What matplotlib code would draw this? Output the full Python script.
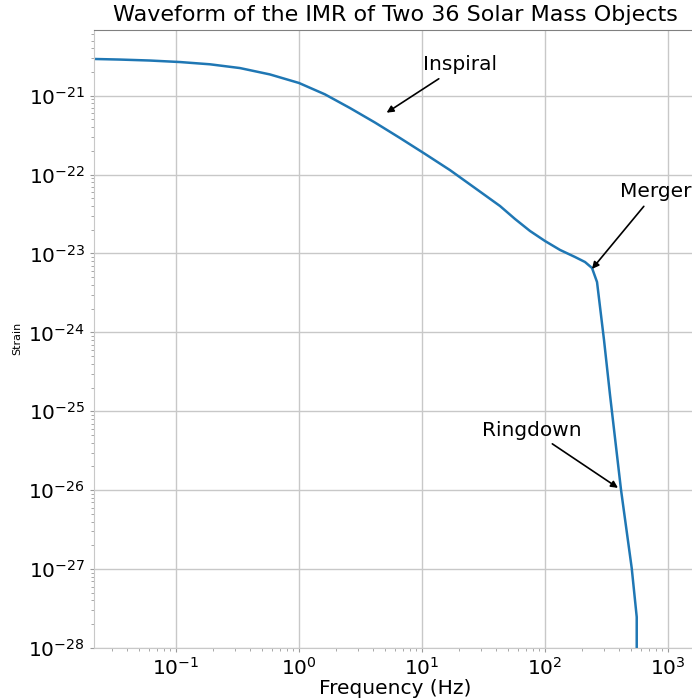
import matplotlib
matplotlib.use("Agg")
import matplotlib.pyplot as plt

# Frequency-domain amplitude of the inspiral-merger-ringdown signal
freq_hz = [0.02154, 0.03505, 0.06145, 0.1078, 0.1890, 0.3314, 0.5809, 1.000,
           1.627, 2.598, 4.149, 6.625, 10.58, 16.89, 26.97, 43.07, 57.03,
           75.51, 100.0, 132.4, 175.3, 211.5, 241.1, 264.8, 301.8, 337.7,
           414.9, 506.9, 556.7, 556.7]
strain = [2.92e-21, 2.87e-21, 2.79e-21, 2.67e-21, 2.50e-21, 2.24e-21, 1.86e-21,
          1.45e-21, 1.04e-21, 6.98e-22, 4.57e-22, 2.91e-22, 1.83e-22, 1.14e-22,
          6.76e-23, 4.00e-23, 2.74e-23, 1.93e-23, 1.44e-23, 1.11e-23, 9.03e-24,
          7.80e-24, 6.55e-24, 4.35e-24, 8.01e-25, 1.61e-25, 1.01e-26, 1.03e-27,
          2.47e-28, 1e-32]

x_ticks = [1e-1, 1e0, 1e1, 1e2, 1e3]
y_ticks = [1e-28, 1e-27, 1e-26, 1e-25, 1e-24, 1e-23, 1e-22, 1e-21]

# Phase labels: (text, point on the curve, text anchor)
phase_labels = ["Inspiral", "Merger", "Ringdown"]
phase_points = [(5.16, 6.09e-22), (241, 6.37e-24), (392, 1.07e-26)]
phase_text_pos = [(10.2, 2.45e-21), (407, 6.03e-23), (30.7, 5.79e-26)]

fig = plt.figure(figsize=(6.92, 6.99), dpi=100)
ax = fig.add_axes([94 / 692, 1 - 648 / 699, (697 - 94) / 692, (648 - 29.5) / 699])

ax.loglog(freq_hz, strain, color="#1f77b4", linewidth=1.8)

ax.set_xlim(0.0216, 1720)
ax.set_ylim(1e-28, 6.9e-21)
ax.set_xticks(x_ticks)
ax.set_yticks(y_ticks)

ax.grid(True, which="major", color="#c8c8c8", linewidth=1.0)
ax.set_axisbelow(True)

for side in ("left", "bottom", "right"):
    ax.spines[side].set_color("#c8c8c8")
ax.spines["top"].set_color("#808080")

ax.tick_params(axis="both", which="both", colors="#9a9a9a", labelcolor="black",
               labelsize=14.5)
ax.tick_params(axis="both", which="major", length=3)
ax.tick_params(axis="both", which="minor", length=2)

ax.set_title("Waveform of the IMR of Two 36 Solar Mass Objects", fontsize=16)
ax.set_xlabel("Frequency (Hz)", fontsize=14.5, labelpad=0)
ax.set_ylabel("Strain", fontsize=8)

for label, xy, xytext in zip(phase_labels, phase_points, phase_text_pos):
    ax.annotate(label, xy=xy, xytext=xytext, fontsize=14.5, ha="left", va="center",
                arrowprops=dict(arrowstyle="-|>", color="black", lw=1.2,
                                mutation_scale=10, shrinkA=2, shrinkB=0))

fig.savefig("out.png", dpi=100)
